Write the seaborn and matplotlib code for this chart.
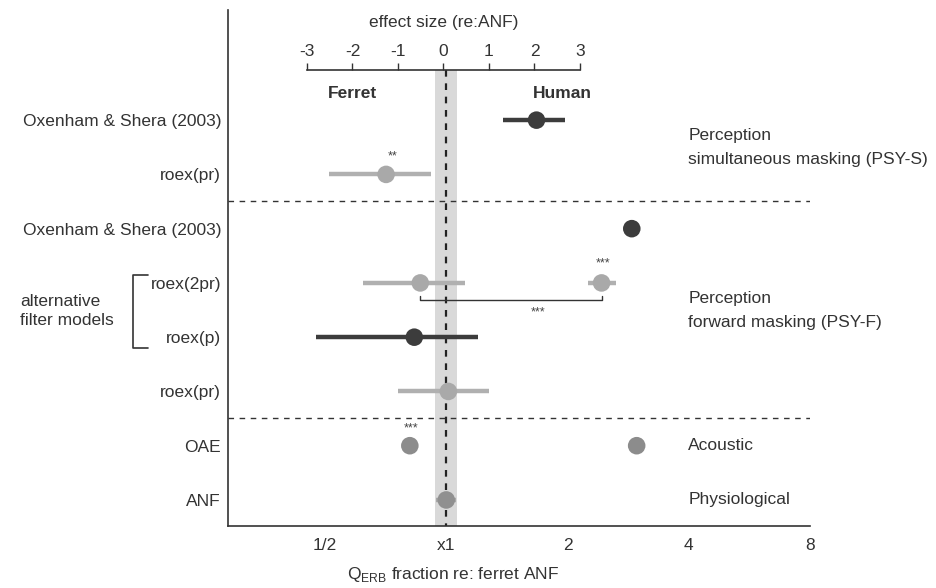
import matplotlib
matplotlib.use("Agg")
import matplotlib.pyplot as plt
import seaborn as sns
import pandas as pd
import numpy as np

# ---- data (Q_ERB fraction re: ferret ANF) ----
row_labels = ["Oxenham & Shera (2003)", "roex(pr)", "Oxenham & Shera (2003)",
              "roex(2pr)", "roex(p)", "roex(pr)", "OAE", "ANF"]
point_rows = [0, 1, 2, 3, 3, 4, 5, 6, 6, 7]
point_vals = [1.675, 0.709, 2.888, 0.862, 2.43, 0.833, 1.012, 0.812, 2.97, 1.0]
err_low = [1.385, 0.512, 2.79, 0.62, 2.25, 0.476, 0.758, np.nan, np.nan, 0.945]
err_high = [1.966, 0.918, 2.99, 1.115, 2.64, 1.20, 1.274, np.nan, np.nan, 1.058]
point_group = ["human", "ferret", "human", "ferret", "ferret", "human", "ferret",
               "oae", "oae", "anf"]
xtick_vals = [0.5, 1, 2, 4, 8]
xtick_labels = ["1/2", "x1", "2", "4", "8"]
effect_ticks = [-3, -2, -1, 0, 1, 2, 3]
section_labels = ["Perception\nsimultaneous masking (PSY-S)",
                  "Perception\nforward masking (PSY-F)", "Acoustic", "Physiological"]
section_rows = [0.5, 3.5, 6, 7]
star_text = ["**", "***", "***"]
star_x = [0.735, 2.45, 0.82]
star_rows = [0.66, 2.65, 5.68]

palette = {"human": "#3c3c3c", "ferret": "#a9a9a9", "oae": "#8c8c8c", "anf": "#909090"}
err_palette = {"human": "#3c3c3c", "ferret": "#b0b0b0", "oae": "#8c8c8c", "anf": "#a8a8a8"}

df = pd.DataFrame({"row": point_rows, "q": point_vals, "lo": err_low,
                   "hi": err_high, "group": point_group})

sns.set_style("white")
plt.rcParams["font.family"] = ["Liberation Sans", "DejaVu Sans"]
FS = 12.5
TXT = "#333333"

W, H = 937, 588
fig = plt.figure(figsize=(W / 100, H / 100), dpi=100)
L, R, T, B = 228, 810, 10, 526
ax = fig.add_axes([L / W, 1 - B / H, (R - L) / W, (B - T) / H])

ax.set_xscale("log", base=2)
ax.set_xlim(2 ** -1.8, 8)
ax.set_ylim(7.48, -2.03)

# reference band and line at x1
ax.fill_betweenx([-0.93, 7.48], 2 ** -0.09, 2 ** 0.085, color="#d9d9d9", zorder=0, lw=0)
ax.plot([1, 1], [-0.93, 7.48], color="#222222", ls=(0, (3, 3)), lw=1.6, zorder=1)

# section separators
for yy in [1.49, 5.49]:
    ax.plot([2 ** -1.8, 8], [yy, yy], color="#333333", ls=(0, (4, 4)), lw=1.0, zorder=1)

# error bars
for _, r in df.dropna().iterrows():
    ax.plot([r.lo, r.hi], [r.row, r.row], color=err_palette[r.group], lw=3.2,
            solid_capstyle="butt", zorder=2)

sns.scatterplot(data=df, x="q", y="row", hue="group", palette=palette, s=160,
                edgecolor="none", legend=False, ax=ax, zorder=3)

# significance stars
for t, xx, yy in zip(star_text, star_x, star_rows):
    ax.text(xx, yy, t, ha="center", va="center", fontsize=9, color="#444444")

# bracket between roex(2pr) points
yb = 3.32
ax.plot([0.862, 0.862, 2.43, 2.43], [yb - 0.08, yb, yb, yb - 0.08], color="#333333", lw=1.0)
ax.text(1.69, yb + 0.22, "***", ha="center", va="center", fontsize=9, color="#444444")

ax.set_yticks(range(len(row_labels)))
ax.set_yticklabels(row_labels)
ax.set_ylabel("")
ax.set_xticks(xtick_vals)
ax.set_xticklabels(xtick_labels)
ax.minorticks_off()
ax.tick_params(axis="both", direction="in", length=5, width=1, colors=TXT,
               labelsize=FS, labelcolor=TXT, pad=9)
ax.tick_params(axis="y", pad=5)
for s in ["top", "right"]:
    ax.spines[s].set_visible(False)
for s in ["left", "bottom"]:
    ax.spines[s].set_color(TXT)
    ax.spines[s].set_linewidth(1.2)

ax.set_xlabel(r"Q$_{\mathregular{ERB}}$ fraction re: ferret ANF", fontsize=FS, color=TXT)
ax.xaxis.set_label_coords((453 - L) / (R - L), -0.075)

# section labels on right
for t, yy in zip(section_labels, section_rows):
    ax.text(2 ** 1.995, yy, t, ha="left", va="center", fontsize=FS,
            color=TXT, linespacing=1.75)

ax.text(2 ** -0.77, -0.5, "Ferret", ha="center", va="center", fontsize=FS,
        color=TXT, fontweight="bold")
ax.text(2 ** 0.96, -0.5, "Human", ha="center", va="center", fontsize=FS,
        color=TXT, fontweight="bold")

# left annotation
fig.text(20 / W, 1 - 311 / H, "alternative\nfilter models", ha="left", va="center",
         fontsize=FS, color=TXT, linespacing=1.35)
bx0, bx1, by0, by1 = 133, 148, 275, 348
fig.add_artist(plt.Line2D([bx1 / W, bx0 / W, bx0 / W, bx1 / W],
                          [1 - by0 / H, 1 - by0 / H, 1 - by1 / H, 1 - by1 / H],
                          color=TXT, lw=1.2))

# top effect size axis
ax2 = fig.add_axes([307 / W, 1 - 70 / H, (580 - 307) / W, 0.0001])
ax2.set_xlim(-3, 3)
ax2.set_facecolor("none")
for s in ["left", "right", "bottom"]:
    ax2.spines[s].set_visible(False)
ax2.spines["top"].set_color(TXT)
ax2.spines["top"].set_linewidth(1.2)
ax2.xaxis.tick_top()
ax2.set_xticks(effect_ticks)
ax2.set_xticklabels([str(v) for v in effect_ticks])
ax2.set_yticks([])
ax2.tick_params(axis="x", direction="out", length=5, width=1, colors=TXT,
                labelsize=FS, pad=3)
ax2.set_title("effect size (re:ANF)", fontsize=FS, color=TXT, pad=31)

fig.savefig("out.png", dpi=100)
